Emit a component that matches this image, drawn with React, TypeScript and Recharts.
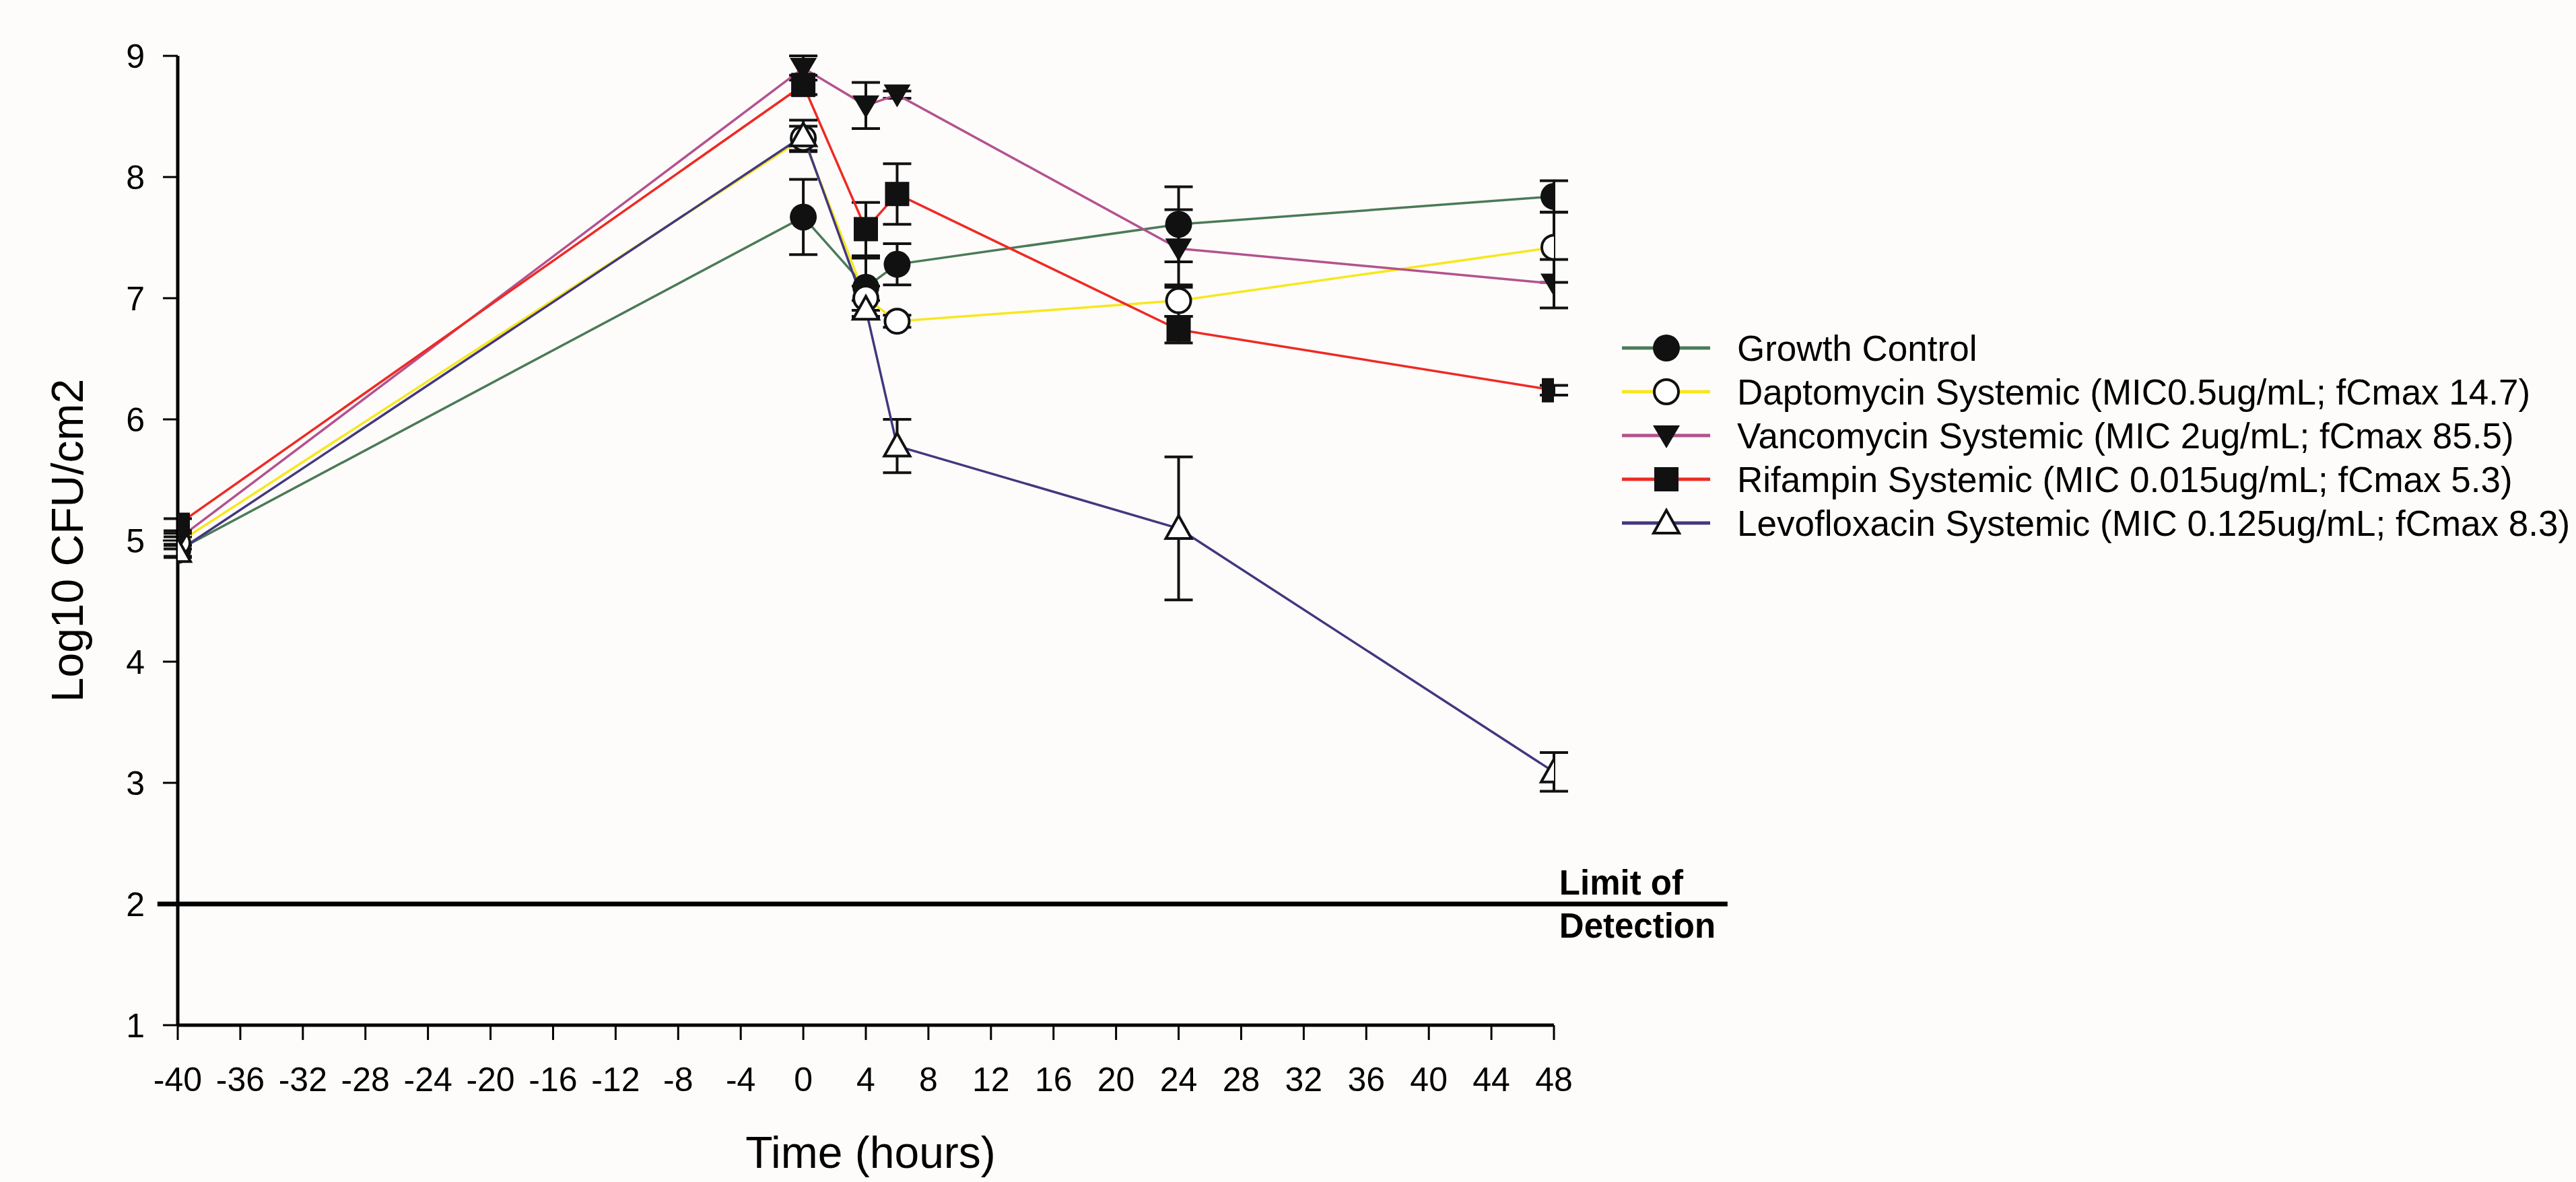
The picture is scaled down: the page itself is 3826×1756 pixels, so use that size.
import React from 'react';
import { LineChart, Line, XAxis, YAxis, ErrorBar, ReferenceLine, Legend } from 'recharts';

const FONT = '"Liberation Sans", Arial, sans-serif';

// sampling times (hours)
const TIME_POINTS = [-40, 0, 4, 6, 24, 48];
const X_TICKS = [-40, -36, -32, -28, -24, -20, -16, -12, -8, -4, 0, 4, 8, 12, 16, 20, 24, 28, 32, 36, 40, 44, 48];
const Y_TICKS = [1, 2, 3, 4, 5, 6, 7, 8, 9];

// log10 CFU/cm2, mean and SD at each time point
const GROWTH_MEAN = [4.92, 7.67, 7.09, 7.28, 7.61, 7.84];
const GROWTH_ERR = [0.05, 0.31, 0.24, 0.17, 0.31, 0.13];
const DAPTO_MEAN = [4.98, 8.32, 7.0, 6.81, 6.98, 7.42];
const DAPTO_ERR = [0.05, 0.1, 0.1, 0.05, 0.13, 0.29];
const VANCO_MEAN = [5.01, 8.9, 8.59, 8.68, 7.41, 7.12];
const VANCO_ERR = [0.05, 0.1, 0.19, 0.03, 0.32, 0.2];
const RIF_MEAN = [5.13, 8.76, 7.57, 7.86, 6.74, 6.24];
const RIF_ERR = [0.05, 0.08, 0.22, 0.25, 0.11, 0.04];
const LEVO_MEAN = [4.91, 8.34, 6.91, 5.78, 5.1, 3.09];
const LEVO_ERR = [0.05, 0.13, 0.07, 0.22, 0.59, 0.16];

const LOD = 2;
const LOD_X_RANGE = [-41.3, 59.1];

type MarkerKind = 'circle' | 'openCircle' | 'downTriangle' | 'square' | 'openTriangle';

const toPoints = (means: number[], errs: number[]) =>
  TIME_POINTS.map((t, i) => ({ t, v: means[i], err: errs[i] }));

const SERIES: { name: string; color: string; marker: MarkerKind; data: { t: number; v: number; err: number }[] }[] = [
  { name: 'Growth Control', color: '#4b7a57', marker: 'circle', data: toPoints(GROWTH_MEAN, GROWTH_ERR) },
  { name: 'Daptomycin Systemic (MIC0.5ug/mL; fCmax 14.7)', color: '#f8e71c', marker: 'openCircle', data: toPoints(DAPTO_MEAN, DAPTO_ERR) },
  { name: 'Vancomycin Systemic (MIC 2ug/mL; fCmax 85.5)', color: '#b4528f', marker: 'downTriangle', data: toPoints(VANCO_MEAN, VANCO_ERR) },
  { name: 'Rifampin Systemic (MIC 0.015ug/mL; fCmax 5.3)', color: '#ee2a24', marker: 'square', data: toPoints(RIF_MEAN, RIF_ERR) },
  { name: 'Levofloxacin Systemic (MIC 0.125ug/mL; fCmax 8.3)', color: '#41387f', marker: 'openTriangle', data: toPoints(LEVO_MEAN, LEVO_ERR) },
];

const Marker = ({ cx, cy, kind }: { cx: number; cy: number; kind: MarkerKind }) => {
  if (cx == null || cy == null) return null;
  switch (kind) {
    case 'circle':
      return <circle cx={cx} cy={cy} r={20} fill="#111" />;
    case 'openCircle':
      return <circle cx={cx} cy={cy} r={18} fill="#fff" stroke="#111" strokeWidth={4} />;
    case 'downTriangle':
      return <polygon points={`${cx - 20},${cy - 15} ${cx + 20},${cy - 15} ${cx},${cy + 19}`} fill="#111" />;
    case 'square':
      return <rect x={cx - 18} y={cy - 18} width={36} height={36} fill="#111" />;
    case 'openTriangle':
      return (
        <polygon
          points={`${cx},${cy - 19} ${cx - 19},${cy + 15} ${cx + 19},${cy + 15}`}
          fill="#fff"
          stroke="#111"
          strokeWidth={4}
        />
      );
  }
  return null;
};

const LegendContent = () => (
  <svg width={1420} height={330} style={{ overflow: 'visible' }}>
    {SERIES.map((s, i) => {
      const cy = 32 + i * 65;
      return (
        <g key={s.name}>
          <line x1={4} x2={135} y1={cy} y2={cy} stroke={s.color} strokeWidth={5} />
          <Marker cx={70} cy={cy} kind={s.marker} />
          <text x={175} y={cy} dominantBaseline="central" fontSize={53} fontFamily={FONT} fill="#000">
            {s.name}
          </text>
        </g>
      );
    })}
  </svg>
);

const YTitle = (props: any) => {
  const { viewBox } = props;
  const x = viewBox.x + 36;
  const y = viewBox.y + viewBox.height / 2;
  return (
    <text x={x} y={y} transform={`rotate(-90 ${x} ${y})`} textAnchor="middle" dominantBaseline="central"
      fontSize={66} fontFamily={FONT} fill="#000">
      Log10 CFU/cm2
    </text>
  );
};

const XTitle = (props: any) => {
  const { viewBox } = props;
  return (
    <text x={viewBox.x + viewBox.width / 2 + 7} y={viewBox.y + 212} textAnchor="middle"
      fontSize={66} fontFamily={FONT} fill="#000">
      Time (hours)
    </text>
  );
};

const LodLabel = (props: any) => {
  const { viewBox } = props;
  const x = viewBox.x + viewBox.width - 250;
  return (
    <g>
      <text x={x} y={viewBox.y - 14} fontSize={51} fontWeight="bold" fontFamily={FONT} fill="#000">Limit of</text>
      <text x={x} y={viewBox.y + 50} fontSize={51} fontWeight="bold" fontFamily={FONT} fill="#000">Detection</text>
    </g>
  );
};

export default function App() {
  return (
    <div style={{ width: 3826, height: 1756, background: '#fdfcfa', position: 'relative' }}>
      <style>{'body{margin:0;background:#fdfcfa;}'}</style>
      <LineChart width={3826} height={1756} margin={{ top: 83, right: 1518, bottom: 83, left: 64 }}>
        <XAxis
          type="number"
          dataKey="t"
          domain={[-40, 48]}
          ticks={X_TICKS}
          interval={0}
          allowDataOverflow
          height={150}
          tickSize={22}
          tickMargin={40}
          tick={{ fill: '#000', fontSize: 50, fontFamily: FONT }}
          axisLine={{ stroke: '#000', strokeWidth: 5 }}
          tickLine={{ stroke: '#000', strokeWidth: 3 }}
          label={XTitle}
        />
        <YAxis
          type="number"
          domain={[1, 9]}
          ticks={Y_TICKS}
          interval={0}
          allowDataOverflow
          width={200}
          tickSize={22}
          tickMargin={27}
          tick={{ fill: '#000', fontSize: 50, fontFamily: FONT }}
          axisLine={{ stroke: '#000', strokeWidth: 5 }}
          tickLine={{ stroke: '#000', strokeWidth: 3 }}
          label={YTitle}
        />
        <ReferenceLine
          segment={[{ x: LOD_X_RANGE[0], y: LOD }, { x: LOD_X_RANGE[1], y: LOD }]}
          stroke="#000"
          strokeWidth={7}
          ifOverflow="visible"
          label={LodLabel}
        />
        {SERIES.map((s) => (
          <Line
            key={s.name}
            name={s.name}
            data={s.data}
            dataKey="v"
            type="linear"
            stroke={s.color}
            strokeWidth={3.5}
            isAnimationActive={false}
            activeDot={false}
            dot={(p: any) => <Marker key={`${s.name}-${p.index}`} cx={p.cx} cy={p.cy} kind={s.marker} />}
          >
            <ErrorBar dataKey="err" direction="y" width={21} stroke="#111" strokeWidth={4} isAnimationActive={false} />
          </Line>
        ))}
        <Legend
          layout="vertical"
          align="center"
          verticalAlign="middle"
          content={LegendContent}
          wrapperStyle={{ position: 'absolute', left: 2405, top: 485, width: 1420, height: 330 }}
        />
      </LineChart>
    </div>
  );
}
